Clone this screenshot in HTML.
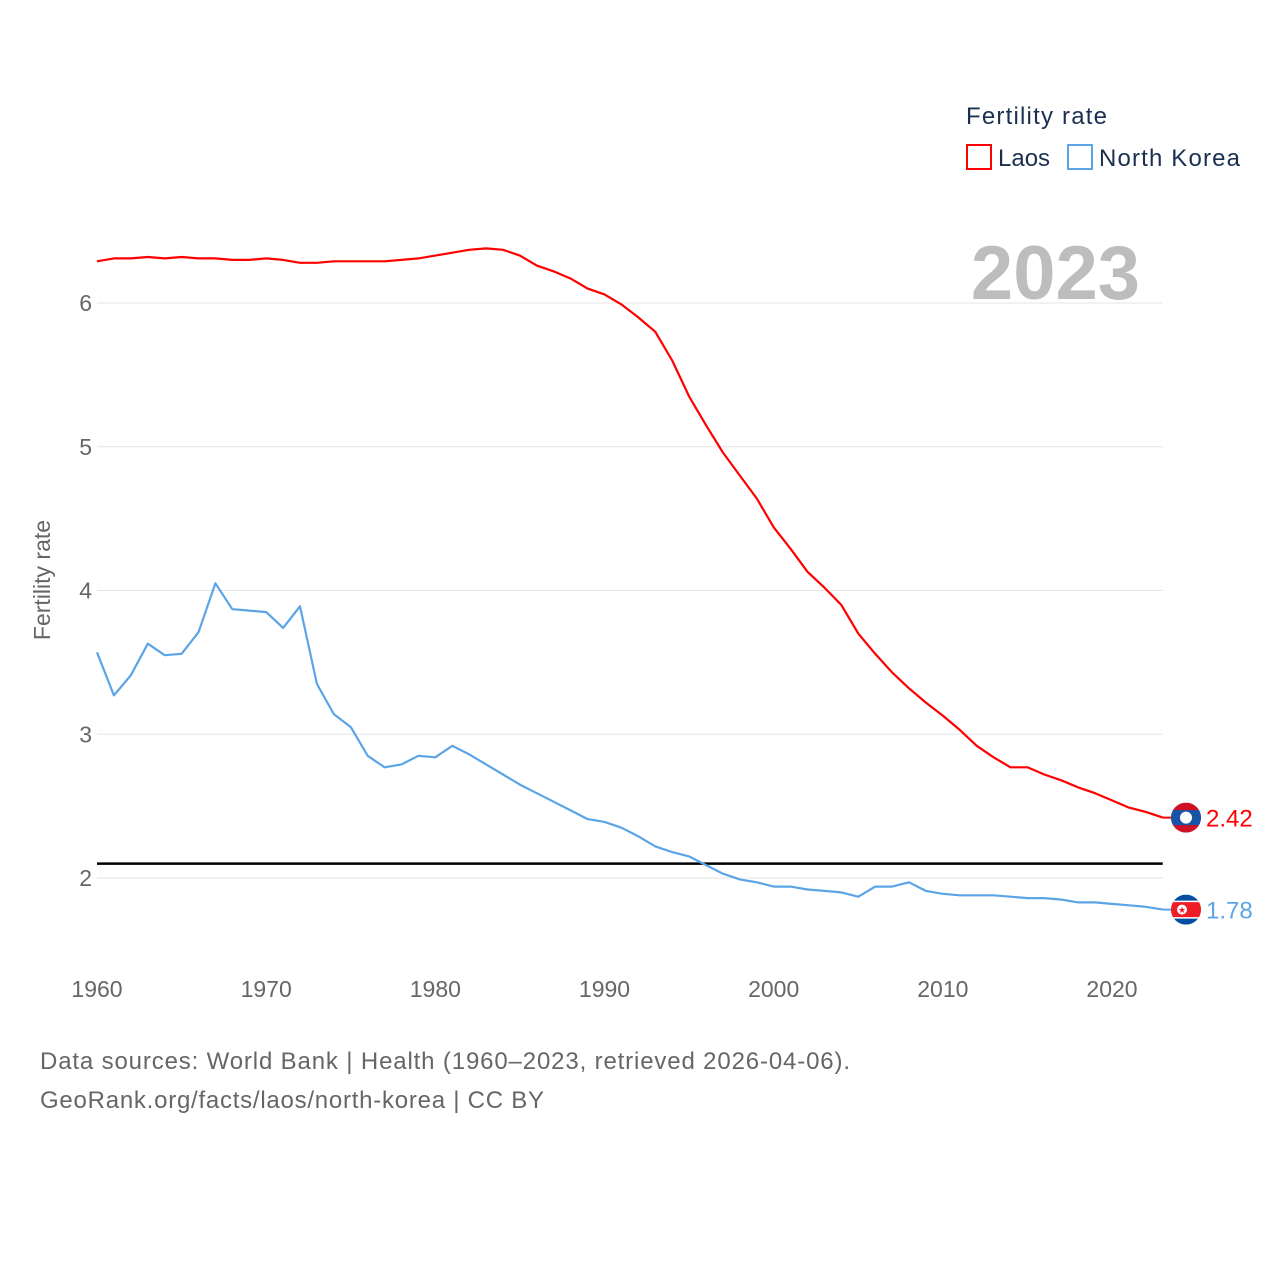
<!DOCTYPE html>
<html><head><meta charset="utf-8">
<style>
html,body{margin:0;padding:0;background:#fff;}
body{width:1280px;height:1280px;overflow:hidden;font-family:"Liberation Sans",sans-serif;}
svg text{font-family:"Liberation Sans",sans-serif;}
</style></head>
<body>
<svg id="chart" width="1280" height="1280" xmlns="http://www.w3.org/2000/svg">
  <g id="grid"></g>
  <g id="yticks"></g>
  <g id="xticks"></g>
  <text x="0" y="0" transform="translate(50,580) rotate(-90)" text-anchor="middle" font-size="23" fill="#666">Fertility rate</text>
  <text x="1140" y="299" text-anchor="end" font-size="76" font-weight="bold" fill="#bdbdbd">2023</text>
  <g>
    <text x="966" y="124" font-size="24" fill="#1a3050" textLength="141">Fertility rate</text>
    <g>
      <rect x="967" y="145" width="24" height="24" fill="none" stroke="#ff0000" stroke-width="2"/>
      <text x="998" y="166" font-size="24" fill="#1a3050">Laos</text>
    </g>
    <g>
      <rect x="1068" y="145" width="24" height="24" fill="none" stroke="#5ba4e8" stroke-width="2"/>
      <text x="1099" y="166" font-size="24" fill="#1a3050" textLength="141">North Korea</text>
    </g>
  </g>
  <line id="refline" stroke="#000" stroke-width="2.5"/>
  <path id="laos" fill="none" stroke="#ff0000" stroke-width="2.2" stroke-linejoin="round"/>
  <path id="nk" fill="none" stroke="#5ba4e8" stroke-width="2.2" stroke-linejoin="round"/>
  <g id="ends"></g>
  <text x="40" y="1069" font-size="24" fill="#666" textLength="810">Data sources: World Bank | Health (1960–2023, retrieved 2026-04-06).</text>
  <text x="40" y="1108" font-size="24" fill="#666" textLength="504">GeoRank.org/facts/laos/north-korea | CC BY</text>
</svg>
<script>
const years = [];
for (let y = 1960; y <= 2023; y++) years.push(y);
const laos = [6.29,6.31,6.31,6.32,6.31,6.32,6.31,6.31,6.30,6.30,6.31,6.30,6.28,6.28,6.29,6.29,6.29,6.29,6.30,6.31,6.33,6.35,6.37,6.38,6.37,6.33,6.26,6.22,6.17,6.10,6.06,5.99,5.90,5.80,5.60,5.35,5.15,4.96,4.80,4.64,4.44,4.29,4.13,4.02,3.90,3.70,3.56,3.43,3.32,3.22,3.13,3.03,2.92,2.84,2.77,2.77,2.72,2.68,2.63,2.59,2.54,2.49,2.46,2.42];
const northKorea = [3.57,3.27,3.41,3.63,3.55,3.56,3.71,4.05,3.87,3.86,3.85,3.74,3.89,3.35,3.14,3.05,2.85,2.77,2.79,2.85,2.84,2.92,2.86,2.79,2.72,2.65,2.59,2.53,2.47,2.41,2.39,2.35,2.29,2.22,2.18,2.15,2.09,2.03,1.99,1.97,1.94,1.94,1.92,1.91,1.90,1.87,1.94,1.94,1.97,1.91,1.89,1.88,1.88,1.88,1.87,1.86,1.86,1.85,1.83,1.83,1.82,1.81,1.80,1.78];
const yTicks = [2,3,4,5,6];
const xTicks = [1960,1970,1980,1990,2000,2010,2020];
const refValue = 2.1;

const NS = "http://www.w3.org/2000/svg";
const X = y => 97 + (y - 1960) * (1015 / 60);
const Y = v => 878 - (v - 2) * 143.75;
const x0 = 97, x1 = X(2023);

function mk(tag, attrs, parent, txt) {
  const e = document.createElementNS(NS, tag);
  for (const k in attrs) e.setAttribute(k, attrs[k]);
  if (txt !== undefined) e.textContent = txt;
  parent.appendChild(e);
  return e;
}
const grid = document.getElementById('grid');
const yt = document.getElementById('yticks');
const xt = document.getElementById('xticks');
yTicks.forEach(v => {
  const l = mk('line', {x1: x0, x2: x1, y1: Y(v), y2: Y(v), stroke: '#e6e6e6', 'stroke-width': 1}, grid);
  
  
  const t = mk('text', {x: 92, y: Y(v) + 8, 'text-anchor': 'end', 'font-size': 23, fill: '#666'}, yt, String(v));
  
  
});
xTicks.forEach(yr => {
  const t = mk('text', {x: X(yr), y: 997, 'text-anchor': 'middle', 'font-size': 23, fill: '#666'}, xt, String(yr));
  
  
});
const ref = document.getElementById('refline');
ref.setAttribute('x1', x0); ref.setAttribute('x2', x1);
ref.setAttribute('y1', Y(refValue)); ref.setAttribute('y2', Y(refValue));

const pathOf = arr => arr.map((v, i) => (i ? 'L' : 'M') + X(years[i]).toFixed(1) + ' ' + Y(v).toFixed(1)).join(' ');
document.getElementById('laos').setAttribute('d', pathOf(laos));
document.getElementById('nk').setAttribute('d', pathOf(northKorea));

const ends = document.getElementById('ends');
function endLabel(arr, color, name, flag) {
  const v = arr[arr.length - 1];
  const cx = 1186, cy = Y(v);
  const g = mk('g', {}, ends);
  
  
  mk('line', {x1: x1, x2: cx - 14, y1: cy, y2: cy, stroke: color, 'stroke-width': 2}, g);
  const cp = 'clip-' + name;
  const defs = mk('defs', {}, g);
  const c = mk('clipPath', {id: cp}, defs);
  mk('circle', {cx: cx, cy: cy, r: 15}, c);
  const fg = mk('g', {'clip-path': 'url(#' + cp + ')'}, g);
  if (flag === 'laos') {
    mk('rect', {x: cx - 15, y: cy - 15, width: 30, height: 30, fill: '#ce1126'}, fg);
    mk('rect', {x: cx - 15, y: cy - 7.5, width: 30, height: 15, fill: '#1654a8'}, fg);
    mk('circle', {cx: cx, cy: cy, r: 6, fill: '#fff'}, fg);
  } else {
    mk('rect', {x: cx - 15, y: cy - 15, width: 30, height: 30, fill: '#024fa2'}, fg);
    mk('rect', {x: cx - 15, y: cy - 9, width: 30, height: 18, fill: '#fff'}, fg);
    mk('rect', {x: cx - 15, y: cy - 7.5, width: 30, height: 15, fill: '#ed1c27'}, fg);
    mk('circle', {cx: cx - 4, cy: cy, r: 5, fill: '#fff'}, fg);
    mk('text', {x: cx - 4, y: cy + 3.5, 'text-anchor': 'middle', 'font-size': 9, fill: '#ed1c27'}, fg, '★');
  }
  mk('text', {x: 1206, y: cy + 9, 'font-size': 24, fill: color}, g, v.toFixed(2));
}
endLabel(laos, '#ff0000', 'laos', 'laos');
endLabel(northKorea, '#5ba4e8', 'north-korea', 'nk');
</script>
</body></html>
